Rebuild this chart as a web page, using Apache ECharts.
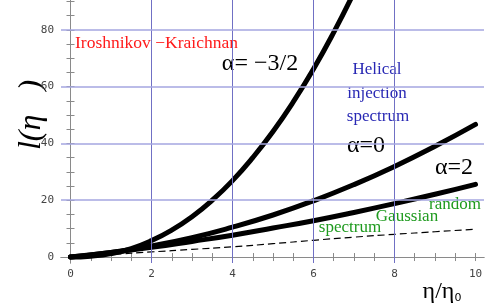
<!DOCTYPE html>
<html><head><meta charset="utf-8">
<script src="https://cdn.jsdelivr.net/npm/echarts@6/dist/echarts.min.js"></script>
<style>html,body{margin:0;padding:0;background:#fff}#c{width:491px;height:305px}</style>
</head><body><div id="c"></div>
<script>
// ---- data ----
const xSteep = [0,0.5,1,1.5,2,2.5,3,3.5,4,4.5,5,5.5,6,6.5,7];
const alphaM32 = [0,0.3,1.2,3.0,5.8,9.5,14.2,20.0,26.9,35.0,44.2,54.6,66.2,79.1,93.2];
const xMain = [0,1,2,3,4,5,6,7,8,9,10];
const alpha0 = [0,1.6,3.9,6.8,10.5,14.8,19.8,25.5,31.9,39.0,46.7];
const alpha2 = [0,1.6,3.4,5.5,7.7,10.2,12.8,15.7,18.8,22.1,25.6];
const gaussian = [0,0.9,1.8,2.7,3.6,4.7,5.9,7.0,8.0,8.9,9.8];
const xTickLabels = [0,2,4,6,8,10];
const yTickLabels = [0,20,40,60,80];
const xMinorTicks = [0,0.5,1,1.5,2,2.5,3,3.5,4,4.5,5,5.5,6,6.5,7,7.5,8,8.5,9,9.5,10];
const yMinorTicks = [0,5,10,15,20,25,30,35,40,45,50,55,60,65,70,75,80,85,90];
const xGrid = [2,4,6,8];
const yGrid = [20,40,60,80];

const pair = (xs, ys) => xs.map((x,i)=>[x, ys[i]]);
const chart = echarts.init(document.getElementById('c'), null, {renderer:'canvas'});
const XMIN=-0.2346, XMAX=10.2099, YMIN=-2.1, YMAX=90.5;
const axisCol = '#8a8a8a';
const tickFont = {fontFamily:'DejaVu Sans Mono', fontSize:11, color:'#444'};
const serif = 'Liberation Serif';

chart.setOption({
  animation:false,
  grid:{left:61, right:7, top:-1, bottom:42, containLabel:false},
  xAxis:[{
    type:'value', min:XMIN, max:XMAX, position:'bottom',
    axisLine:{show:true, lineStyle:{color:axisCol, width:1}},
    axisTick:{show:true, inside:true, length:4, customValues:xMinorTicks, lineStyle:{color:axisCol}},
    axisLabel:{show:true, customValues:xTickLabels, margin:6, ...tickFont},
    splitLine:{show:false}
  },{
    type:'value', min:XMIN, max:XMAX, position:'top',
    axisLine:{show:true, lineStyle:{color:axisCol, width:1}},
    axisTick:{show:true, inside:true, length:4, customValues:xMinorTicks, lineStyle:{color:axisCol}},
    axisLabel:{show:false}, splitLine:{show:false}
  }],
  yAxis:[{
    type:'value', min:YMIN, max:YMAX, position:'left',
    axisLine:{show:true, lineStyle:{color:axisCol, width:1}},
    axisTick:{show:true, inside:true, length:4, customValues:yMinorTicks, lineStyle:{color:axisCol}},
    axisLabel:{show:true, customValues:yTickLabels, margin:7, ...tickFont},
    splitLine:{show:false}
  },{
    type:'value', min:YMIN, max:YMAX, position:'right',
    axisLine:{show:true, lineStyle:{color:axisCol, width:1}},
    axisTick:{show:true, inside:true, length:4, customValues:yMinorTicks, lineStyle:{color:axisCol}},
    axisLabel:{show:false}, splitLine:{show:false}
  }],
  series:[
    {type:'line', data:[], z:1, silent:true,
     markLine:{silent:true, symbol:'none', label:{show:false}, animation:false,
       lineStyle:{color:'#7070c4', width:1, type:'solid', opacity:1},
       emphasis:{disabled:true},
       data:xGrid.map(v=>({xAxis:v}))}},
    {type:'line', data:[], z:1, silent:true,
     markLine:{silent:true, symbol:'none', label:{show:false}, animation:false,
       lineStyle:{color:'#a4a6e0', width:1.6, type:'solid', opacity:1},
       emphasis:{disabled:true},
       data:yGrid.map(v=>({yAxis:v}))}},
    {type:'line', data:pair(xMain, gaussian), smooth:true, showSymbol:false, z:3,
     lineStyle:{color:'#000', width:1.2, type:[7,4]}},
    {type:'line', data:pair(xMain, alpha2), smooth:true, showSymbol:false, z:4,
     lineStyle:{color:'#000', width:5, cap:'round'}},
    {type:'line', data:pair(xMain, alpha0), smooth:true, showSymbol:false, z:4,
     lineStyle:{color:'#000', width:5, cap:'round'}},
    {type:'line', data:pair(xSteep, alphaM32), smooth:true, showSymbol:false, z:4, clip:true,
     lineStyle:{color:'#000', width:5, cap:'round'}}
  ],
  graphic:[
    {type:'text', left:75, top:34, style:{text:'Iroshnikov \u2212Kraichnan', fill:'#ff1a1a', font:'17.5px "Liberation Serif"'}},
    {type:'text', x:260, y:64, style:{text:'\u03b1= \u22123/2', fill:'#000', font:'24px "Liberation Serif"', align:'center', verticalAlign:'middle'}},
    {type:'text', x:377, y:70, style:{text:'Helical', fill:'#2828b4', font:'17px "Liberation Serif"', align:'center', verticalAlign:'middle'}},
    {type:'text', x:377, y:94, style:{text:'injection', fill:'#2828b4', font:'17px "Liberation Serif"', align:'center', verticalAlign:'middle'}},
    {type:'text', x:378, y:117, style:{text:'spectrum', fill:'#2828b4', font:'17px "Liberation Serif"', align:'center', verticalAlign:'middle'}},
    {type:'text', x:366, y:146, style:{text:'\u03b1=0', fill:'#000', font:'24px "Liberation Serif"', align:'center', verticalAlign:'middle'}},
    {type:'text', x:454, y:168, style:{text:'\u03b1=2', fill:'#000', font:'24px "Liberation Serif"', align:'center', verticalAlign:'middle'}},
    {type:'text', x:455, y:205, style:{text:'random', fill:'#1e9a1e', font:'17px "Liberation Serif"', align:'center', verticalAlign:'middle'}},
    {type:'text', x:407, y:217, style:{text:'Gaussian', fill:'#1e9a1e', font:'17px "Liberation Serif"', align:'center', verticalAlign:'middle'}},
    {type:'text', x:350, y:228, style:{text:'spectrum', fill:'#1e9a1e', font:'17px "Liberation Serif"', align:'center', verticalAlign:'middle'}},
    {type:'text', x:32, y:115, rotation:Math.PI/2, style:{text:'l(\u03b7   )', fill:'#000', font:'italic 32px "Liberation Serif"', align:'center', verticalAlign:'middle'}},
    {type:'text', x:442, y:292, style:{
      text:'{a|\u03b7/\u03b7}{b|0}', align:'center', verticalAlign:'middle',
      rich:{a:{fontFamily:serif, fontSize:24, fill:'#000'}, b:{fontFamily:'DejaVu Sans', fontSize:11, fill:'#000', padding:[12,0,0,0]}}}}
  ]
});
</script></body></html>
